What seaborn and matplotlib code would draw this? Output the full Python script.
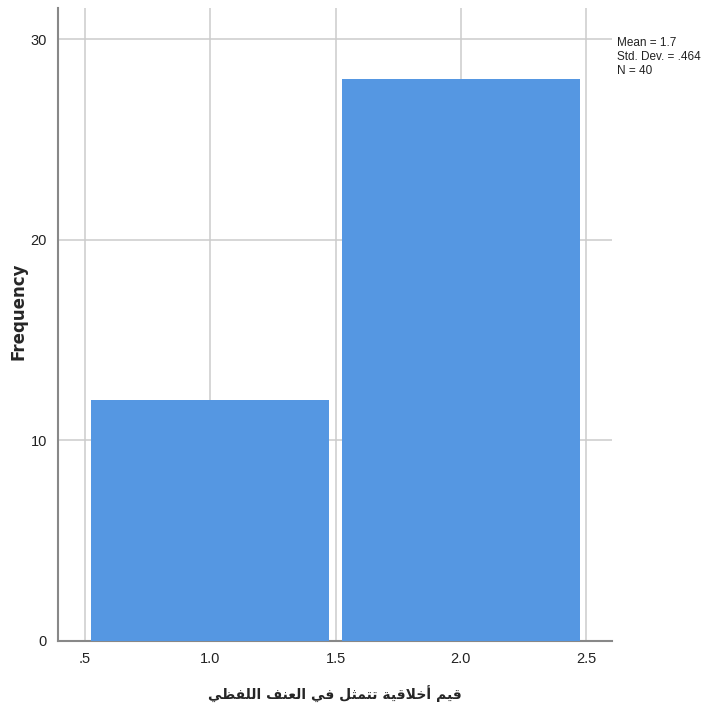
import matplotlib
matplotlib.use('Agg')
import matplotlib.pyplot as plt
import seaborn as sns

# Data: histogram of the two response values
values = [1, 2]
counts = [12, 28]
bin_edges = [0.5, 1.5, 2.5]
x_ticks = [0.5, 1.0, 1.5, 2.0, 2.5]
x_tick_labels = ['.5', '1.0', '1.5', '2.0', '2.5']
y_ticks = [0, 10, 20, 30]
stats_text = 'Mean = 1.7\nStd. Dev. = .464\nN = 40'


def shape_arabic(word_forms):
    # word_forms already holds the contextual glyph forms in logical order
    return ' '.join(word_forms)[::-1]


# قيم أخلاقية تتمثل في العنف اللفظي (contextual forms)
xlabel_words = [
    '\uFED7\uFEF4\uFEE2',                      # قيم
    '\uFE83\uFEA7\uFEFC\uFED7\uFEF4\uFE94',    # أخلاقية
    '\uFE97\uFE98\uFEE4\uFE9C\uFEDE',          # تتمثل
    '\uFED3\uFEF2',                            # في
    '\uFE8D\uFEDF\uFECC\uFEE8\uFED2',          # العنف
    '\uFE8D\uFEDF\uFEE0\uFED4\uFEC8\uFEF2',    # اللفظي
]
x_label = shape_arabic(xlabel_words)

sns.set_style('white')
plt.rcParams['font.family'] = ['Liberation Sans', 'DejaVu Sans']

fig = plt.figure(figsize=(7.07, 7.18), dpi=100)
ax = fig.add_axes([58 / 707, 77 / 718, 554 / 707, 633 / 718])

sns.histplot(x=values, weights=counts, bins=bin_edges, shrink=0.95,
             color='#5597E2', alpha=1, edgecolor='none', ax=ax, zorder=3)

ax.set_xlim(0.392, 2.604)
ax.set_ylim(0, 31.55)
ax.set_xticks(x_ticks)
ax.set_xticklabels(x_tick_labels)
ax.set_yticks(y_ticks)
ax.tick_params(axis='both', length=0, labelsize=10.5, colors='#222222', pad=8)

ax.grid(True, color='#cccccc', linewidth=1.1, zorder=0)
ax.set_axisbelow(True)
for side in ['top', 'right']:
    ax.spines[side].set_visible(False)
for side in ['left', 'bottom']:
    ax.spines[side].set_color('#888888')
    ax.spines[side].set_linewidth(1.5)

ax.set_ylabel('Frequency', fontsize=12, fontweight='bold',
              family=['DejaVu Sans'])
ax.yaxis.set_label_coords(-0.055, 0.521)
ax.set_xlabel(x_label, fontsize=10, fontweight='bold',
              family=['DejaVu Sans'], labelpad=14)

fig.text(617 / 707, 1 - 37 / 718, stats_text, fontsize=8.5, va='top',
         ha='left', linespacing=1.2, color='#222222')

plt.savefig('out.png', dpi=100)
plt.close()
